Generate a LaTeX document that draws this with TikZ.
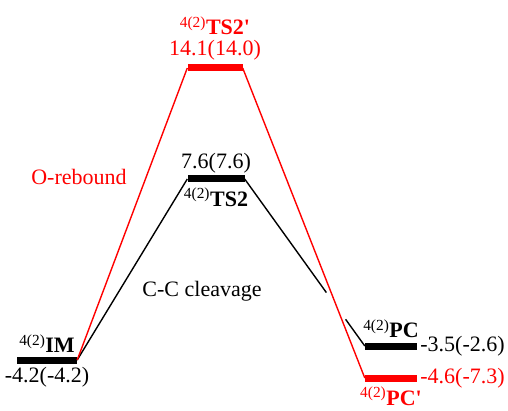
\documentclass[tikz,border=0pt]{standalone}
\usepackage{fontspec}
\setmainfont{Liberation Serif}
\usetikzlibrary{positioning,calc}
\begin{document}
\begin{tikzpicture}[x=1pt,y=1pt,
        level/.style={rectangle, fill, minimum height=7pt, inner sep=0pt},
        lbl/.style={font=\fontsize{22}{24}\selectfont, inner sep=1pt},
        link/.style={line width=1.4pt}]
        \useasboundingbox (0,0) rectangle (508,410);

        % energy levels
        \node[level, minimum width=60pt] (im)   at (47,50)   {};
        \node[level, minimum width=55pt, red] (ts2p) at (215,342) {};
        \node[level, minimum width=57pt] (ts2)  at (216,231) {};
        \node[level, minimum width=52pt] (pc)   at (391,64)  {};
        \node[level, minimum width=52pt, red] (pcp)  at (391,32)  {};

        % labels
        \node[lbl, above=2.5pt of im] (imname) {\textsuperscript{4(2)}\textbf{IM}};
        \node[lbl, below=2pt of im] (imval) {-4.2(-4.2)};
        \node[lbl, red, above=3pt of ts2p] (ts2pval) {14.1(14.0)};
        \node[lbl, red, above=3pt of ts2pval] (ts2pname) {\textsuperscript{4(2)}\textbf{TS2\textquotesingle}};
        \node[lbl, above=1pt of ts2] (ts2val) {7.6(7.6)};
        \node[lbl, below=4pt of ts2] (ts2name) {\textsuperscript{4(2)}\textbf{TS2}};
        \node[lbl, above=3pt of pc] (pcname) {\textsuperscript{4(2)}\textbf{PC}};
        \node[lbl, right=2pt of pc] (pcval) {-3.5(-2.6)};
        \node[lbl, red, right=2pt of pcp] (pcpval) {-4.6(-7.3)};
        \node[lbl, red, below=4pt of pcp] (pcpname) {\textsuperscript{4(2)}\textbf{PC\textquotesingle}};
        \node[lbl, red] (orebound) at (79,233) {O-rebound};
        \node[lbl] (cccleave) at (202,119) {C-C cleavage};

        % pathways
        \coordinate (gapa) at ($(ts2.east)!0.68!(pc.west)$);
        \coordinate (gapb) at ($(ts2.east)!0.84!(pc.west)$);
        \draw[link] (im.east)--(ts2.west);
        \draw[link] (ts2.east)--(gapa);
        \draw[link] (gapb)--(pc.west);
        \draw[link, red] (im.east)--(ts2p.west);
        \draw[link, red] (ts2p.east)--(pcp.west);
        \end{tikzpicture}
\end{document}
